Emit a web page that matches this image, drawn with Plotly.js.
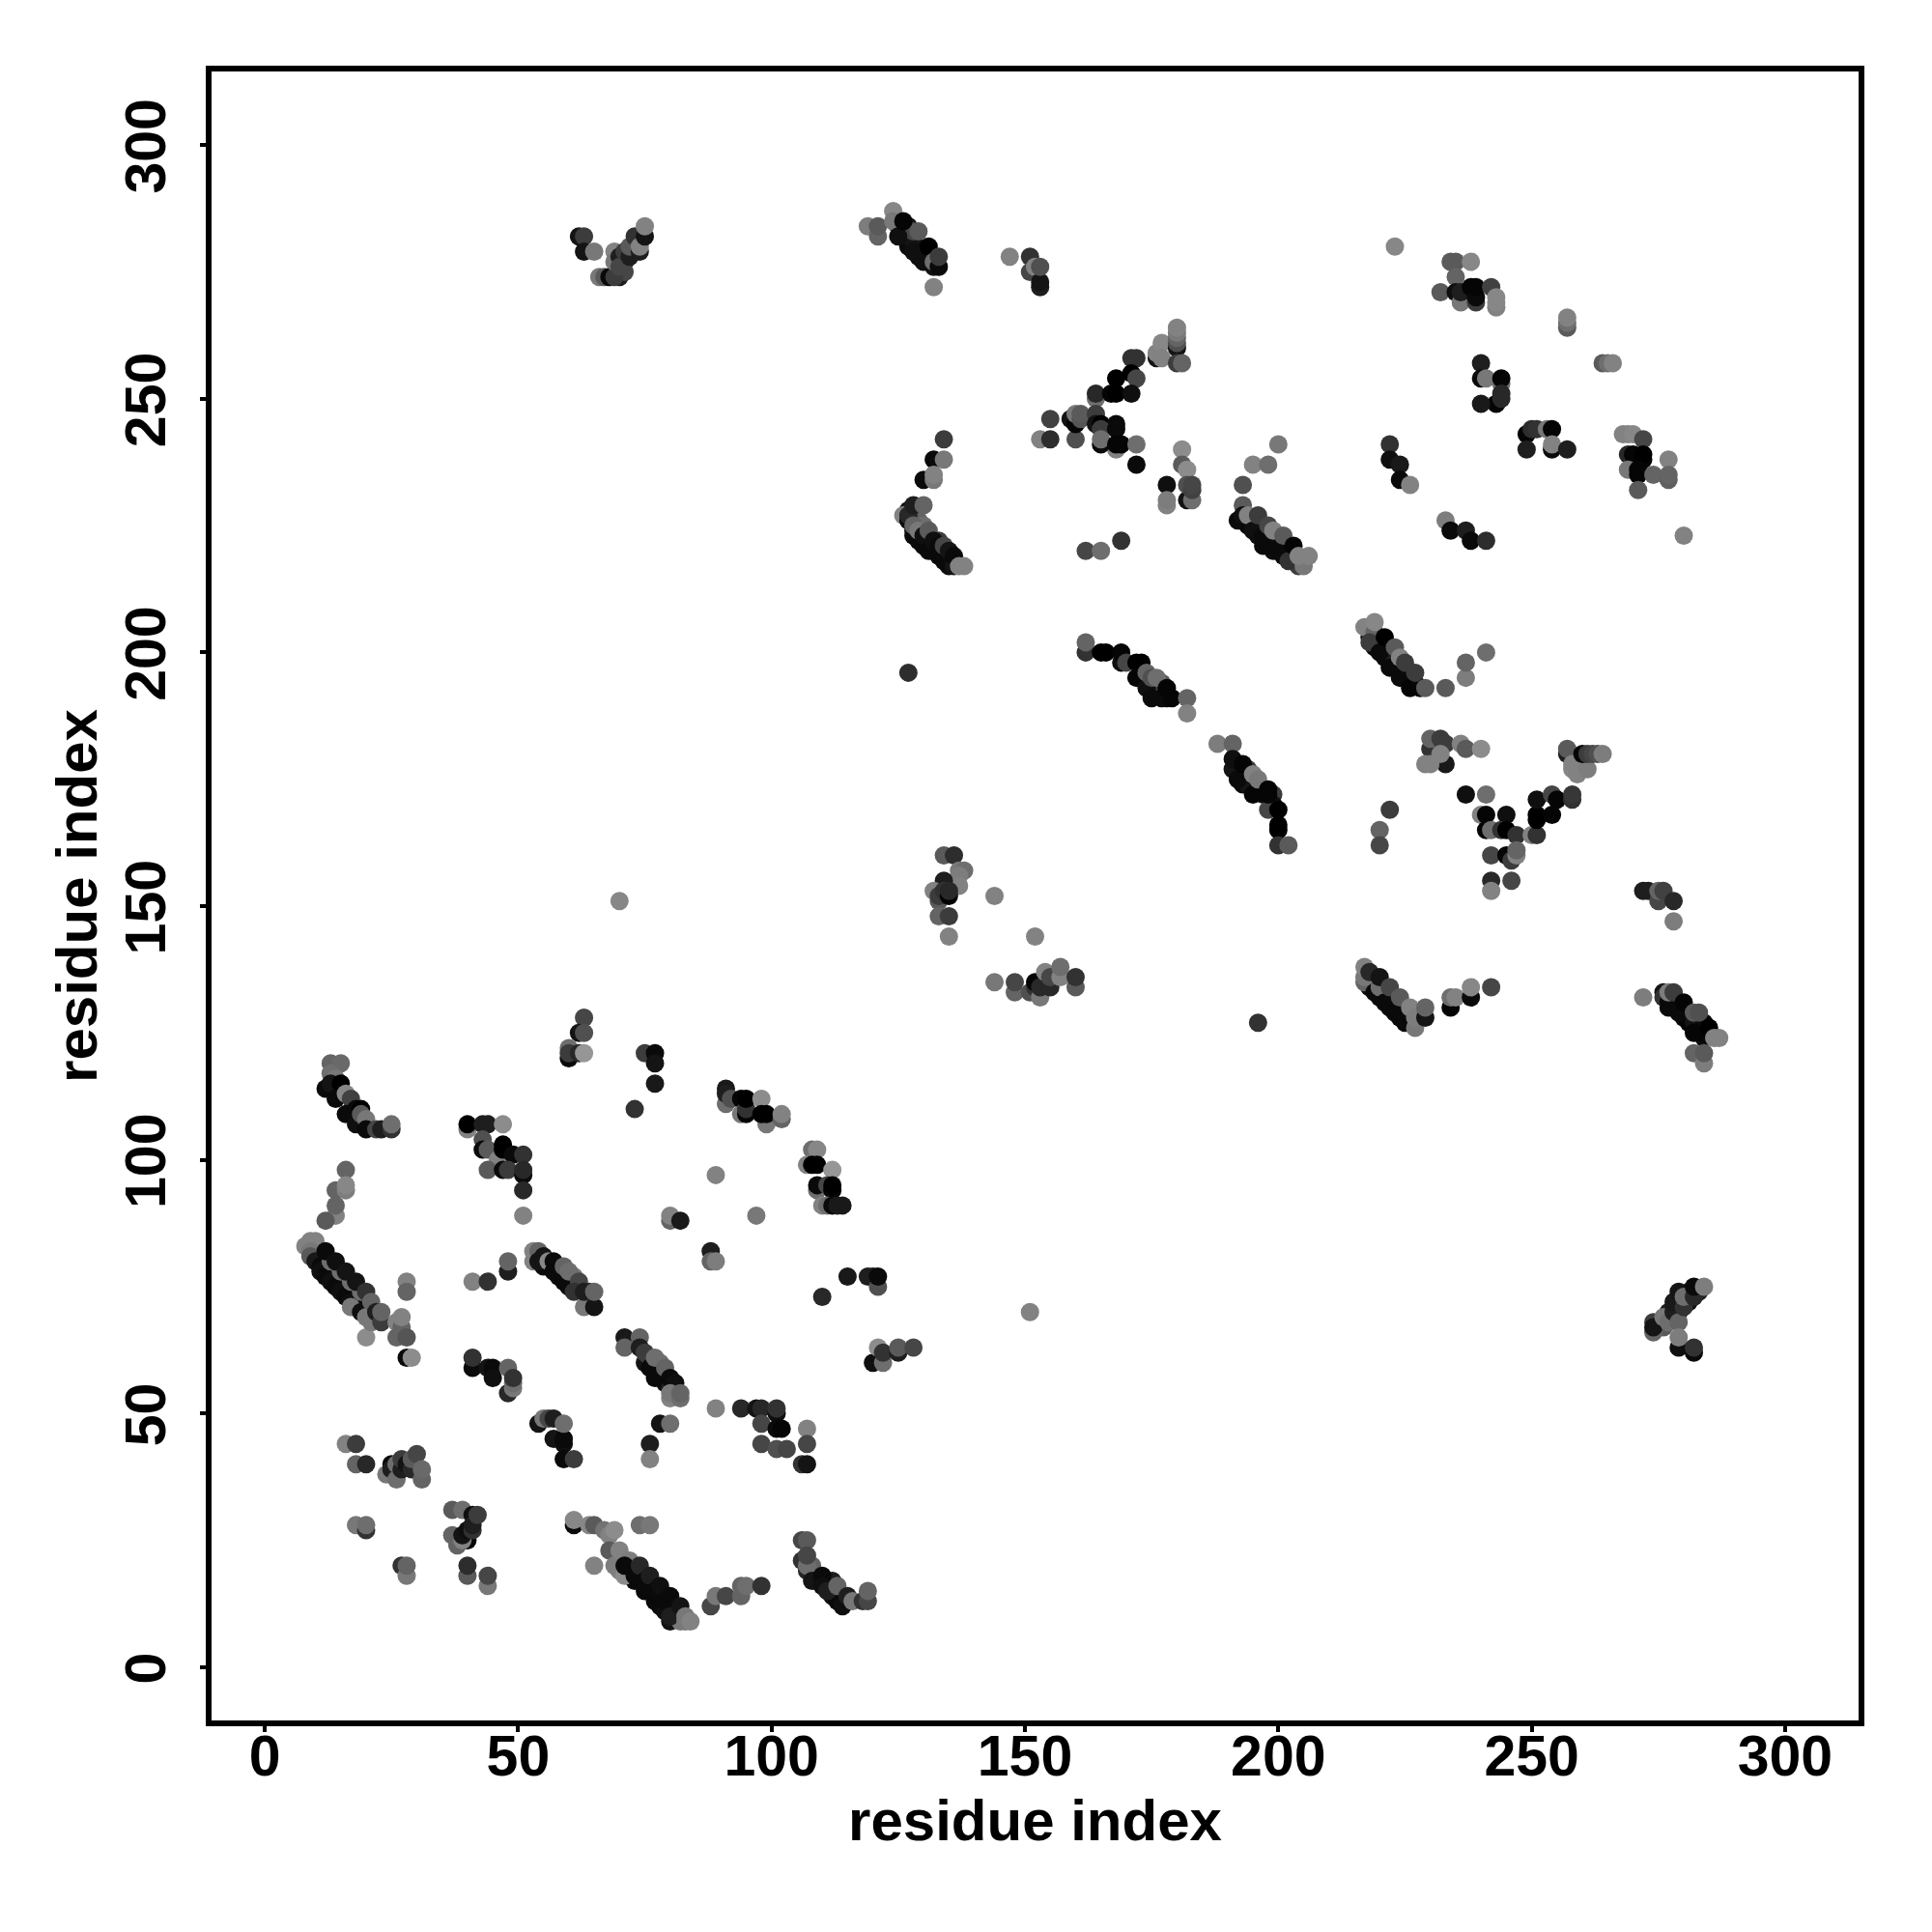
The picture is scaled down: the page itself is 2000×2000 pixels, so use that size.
<!DOCTYPE html>
<html><head><meta charset="utf-8"><script src="https://cdn.plot.ly/plotly-3.0.1.min.js"></script>
<style>html,body{margin:0;padding:0;background:#fff}</style></head><body><div id="chart" style="width:2000px;height:2000px"></div>
<script>
// Each contact: [residue i, residue j, grey level]
const stripFill=[[73,17,10],[75,15,10],[77,13,10],[78,12,10],[79,11,15],[80,9,20],[82,9,120],[70,19,130],[71,21,60],[72,19,110],[109,18,10],[112,14,15],[113,13,10],[107,19,40],[108,20,100],[112,17,30],[128,224,15],[130,221,10],[132,220,10],[133,219,10],[135,217,15],[127,228,20],[129,226,100],[130,225,110],[133,222,60],[193,226,10],[194,225,10],[195,226,20],[196,223,15],[197,221,10],[199,220,15],[200,222,60],[201,219,10],[202,220,40],[203,218,30],[204,217,60],[218,134,10],[220,132,10],[222,130,10],[224,128,10],[226,127,15],[219,135,60],[221,133,30],[223,131,50],[225,129,60],[228,128,125],[277,130,10],[278,131,10],[279,130,15],[280,128,10],[281,127,5],[281,129,10],[282,127,20],[283,126,5],[284,124,10],[284,125,5],[283,128,20],[284,127,10],[275,68,30],[276,67,90],[277,70,30],[278,69,40],[279,70,15],[279,71,20],[280,72,30],[281,72,15],[281,74,20],[283,74,30],[192,177,10],[193,174,10],[194,174,20],[194,177,60],[196,173,15],[197,172,10],[199,172,60],[199,170,15],[192,176,80],[218,203,15],[219,201,10],[220,202,60],[221,199,10],[222,200,30],[223,197,15],[224,197,10],[225,195,10],[226,196,40],[227,194,10],[228,193,5],[226,195,20],[173,195,10],[175,193,10],[176,192,15],[177,194,90],[178,191,10],[176,193,60],[75,60,20],[78,58,15],[79,56,15],[76,61,90],[78,60,110],[80,55,30],[81,54,15],[55,79,10],[58,77,10],[60,75,15],[61,76,40],[62,75,20],[64,74,40],[58,79,90],[61,77,120],[60,77,10],[126,282,15],[127,280,10],[128,281,20],[129,278,15],[130,279,10],[131,278,10],[132,276,20],[127,284,20],[125,284,60],[128,283,70],[70,274,30],[70,277,10],[71,277,20],[72,279,20],[73,280,25],[73,279,10],[71,275,70]];
const lowerLeftA=[[13,119,100],[15,119,105],[13,117,110],[14,116,120],[12,114,10],[13,115,20],[15,115,0],[14,112,10],[16,113,135],[17,112,65],[16,109,10],[18,110,10],[19,110,0],[18,107,15],[19,109,90],[20,108,120],[20,106,10],[22,106,70],[23,106,30],[25,106,50],[25,107,110]];
const lowerLeftB=[[40,106,130],[40,107,0],[43,107,30],[44,107,30],[47,107,140],[43,104,80],[43,102,10],[44,102,90],[46,100,130],[47,103,0],[47,102,0],[49,101,10],[51,101,50],[44,98,90],[47,98,10],[48,98,60],[51,97,10],[51,98,40],[51,94,40],[51,89,130]];
const lowerLeftC=[[63,128,70],[62,125,20],[63,125,80],[60,120,10],[60,122,110],[60,121,60],[62,121,40],[63,121,150]];
const lowerLeftD=[[75,121,60],[77,121,10],[77,119,20],[77,115,25],[73,110,50]];
const lowerLeftE=[[16,98,100],[14,94,100],[16,94,125],[16,95,135],[14,89,130],[14,91,100],[12,88,90]];
const mainStrip=[[8,83,130],[9,84,130],[10,84,130],[9,82,120],[9,81,90],[10,80,25],[11,79,10],[11,78,15],[12,77,10],[13,76,15],[14,75,10],[15,74,15],[16,73,10],[17,72,15],[18,71,10],[17,71,120],[19,70,15],[20,69,120],[20,65,140],[13,80,110],[15,78,110],[17,76,110],[19,74,110],[12,82,10],[14,80,15],[16,78,20],[18,76,20],[20,74,50],[21,72,100],[21,68,120],[22,70,30],[23,68,60],[23,70,100],[28,76,130],[28,74,100],[26,68,130],[26,65,100],[27,67,100],[27,69,130],[28,65,85],[28,61,10],[29,61,140]];
const lowerLeftG=[[41,59,10],[41,61,50],[44,59,20],[45,59,10],[45,57,15],[48,54,40],[48,59,100],[49,55,120],[49,56,110],[49,57,50]];
const lowerLeftH=[[54,48,20],[55,49,120],[56,49,70],[57,49,30],[57,45,20],[59,44,15],[59,45,10],[59,48,110],[59,41,10],[61,41,60]];
const lowerLeftI=[[16,44,130],[18,44,60],[18,40,100],[20,40,40]];
const lowerLeftJ=[[24,38,120],[25,40,10],[25,39,30],[26,37,110],[26,40,110],[27,39,30],[27,41,60],[28,40,20],[29,39,40],[29,41,90],[30,42,70],[31,37,100],[31,39,105]];
const lowerLeftK=[[37,31,90],[39,31,110],[37,26,100],[38,24,100],[40,25,5],[39,25,130],[39,26,20],[41,30,15],[40,27,15],[41,27,50],[41,28,30],[42,30,60]];
const lowerLeftL=[[18,28,120],[20,27,50],[20,28,110]];
const lowerLeftM=[[27,20,50],[28,18,120],[28,20,100],[40,18,90],[40,20,45],[44,16,120],[44,18,70]];
const bottomStrip=[[61,28,10],[61,29,135],[64,28,135],[65,28,90],[67,27,115],[68,26,130],[69,27,140],[74,28,110],[76,28,120],[65,20,130],[68,23,90],[69,20,125],[70,23,130],[71,18,140],[72,21,125],[71,20,10],[73,18,10],[74,20,40],[75,17,10],[76,18,30],[77,15,10],[78,16,15],[79,13,10],[80,14,10],[81,11,10],[80,10,30],[82,12,20],[83,10,120],[83,9,120],[84,9,130]];
const bottomP=[[88,12,70],[89,14,120],[91,14,70],[94,14,100],[94,16,100],[95,16,110],[98,16,50]];
const bottomQ=[[106,25,70],[107,25,90],[106,21,50],[107,20,110],[107,22,70],[108,17,20],[110,18,10],[110,16,15],[111,15,30],[113,16,100],[114,12,15],[115,14,30],[116,13,120],[118,13,50],[119,13,70],[119,15,100]];
const midR=[[53,82,130],[53,80,130],[54,82,100],[54,80,20],[55,81,20],[56,80,135],[57,78,10],[57,80,10],[59,76,10],[59,79,100],[60,78,110],[62,76,70],[61,74,50],[63,71,120],[63,74,30],[65,71,20],[65,74,100],[41,76,130],[44,76,50],[48,78,30],[48,80,100]];
const midT=[[91,114,25],[91,111,110],[91,113,30],[92,112,80],[94,112,5],[94,109,120],[95,109,5],[95,110,50],[95,112,0],[98,112,140],[99,107,120],[98,109,0],[99,109,0],[102,108,100],[102,109,130]];
const midU=[[108,102,110],[109,102,135],[107,99,130],[108,99,0],[109,99,0],[112,98,150],[109,94,110],[109,95,10],[111,95,70],[112,94,5],[112,95,0],[110,91,130],[111,91,110],[112,91,10],[113,91,25],[114,91,25]];
const midSingles=[[89,97,130],[80,88,100],[80,89,130],[82,88,25],[97,89,120],[88,82,30],[88,80,100],[89,80,125],[115,77,25],[119,77,30],[120,77,30],[121,75,80],[121,77,10],[110,73,40],[89,51,130]];
const midV=[[120,60,15],[121,63,140],[122,60,110],[122,62,50],[125,62,30],[125,63,90],[128,63,70]];
const midW=[[94,51,40],[97,51,20],[98,51,40],[101,50,15],[101,51,50],[98,48,70],[98,44,70],[101,47,10],[102,47,5],[101,43,80],[103,43,70],[107,47,130],[107,44,70],[106,40,50],[107,40,20]];
const midX=[[71,65,25],[71,63,100],[74,65,100],[74,63,30],[75,62,60],[76,59,10],[77,61,110],[77,57,10],[79,59,100],[80,57,10],[81,56,15],[80,53,130],[80,54,120],[82,53,110],[82,54,100],[78,48,20],[80,48,110],[76,44,30],[76,41,130]];
const topA=[[62,282,20],[63,282,60],[63,279,20],[65,279,120],[66,274,120],[67,274,90],[68,274,10],[69,274,60],[69,279,130],[69,277,120],[70,278,30],[70,276,70],[71,279,60],[72,278,30],[72,280,90],[73,282,50],[74,279,30],[74,280,130],[75,282,20],[75,284,130]];
const topB=[[119,284,125],[121,282,100],[121,284,90],[124,287,135],[124,285,120],[125,282,15],[126,285,5],[128,279,15],[129,283,90],[130,277,15],[131,280,0],[132,277,110],[133,276,10],[133,278,60],[132,272,130]];
const topC=[[147,278,130],[151,278,50],[151,275,70],[152,276,130],[153,272,30],[153,273,20],[153,276,80]];
const upperD=[[176,258,20],[176,259,130],[177,261,135],[177,258,130],[180,260,20],[180,261,80],[180,262,100],[180,263,120],[180,264,130],[180,257,60],[181,257,100],[171,258,50],[172,258,50],[171,255,0],[172,254,70],[168,254,0],[164,250,110],[164,251,40],[167,251,5],[168,251,0],[171,251,15]];
const upperE=[[155,246,65],[153,242,130],[155,242,45],[160,242,80],[159,246,20],[160,245,5],[160,247,120],[161,246,85],[161,247,90],[164,247,60],[164,245,20],[165,245,0],[168,245,10],[165,244,60],[168,244,10],[168,240,130],[165,241,10],[165,242,110],[168,241,5],[169,241,5],[172,241,110],[172,237,10]];
const upperF=[[181,240,140],[181,237,90],[182,236,140],[178,233,15],[178,229,130],[178,230,125],[182,230,20],[183,230,110],[182,233,80],[183,232,65],[183,233,70]];
const upperG=[[134,242,60],[132,238,10],[134,238,120],[130,234,10],[132,234,120],[132,235,130]];
const upperH=[[126,227,130],[127,226,10],[127,227,40],[128,223,10],[128,229,30],[130,229,100],[128,225,100],[129,222,10],[129,224,120],[130,223,15],[131,220,10],[131,224,90],[132,222,15],[133,221,10],[134,218,10],[134,221,70],[135,220,20],[136,217,20],[136,219,10],[137,217,130],[138,217,130]];
const upperI=[[162,220,70],[165,220,110],[169,222,50],[200,241,120],[195,237,130],[198,237,110],[193,233,80]];
const upperJ=[[193,229,90],[192,226,10],[193,227,15],[194,227,130],[195,224,15],[196,227,60],[197,223,10],[198,221,10],[198,225,70],[199,224,130],[200,220,10],[201,223,90],[202,218,50],[203,221,5],[205,217,120],[204,219,130],[206,219,130]];
const upperK=[[223,280,135],[234,277,90],[235,277,90],[238,277,135],[235,274,100],[232,271,90],[235,271,15],[236,269,120],[236,271,30],[238,272,5],[239,269,60],[239,270,10],[239,272,5],[242,272,65],[243,268,130],[243,269,135],[243,270,135]];
const upperL=[[257,264,90],[257,265,110],[257,266,130],[264,257,90],[265,257,110],[266,257,130]];
const upperM=[[240,257,30],[240,254,10],[241,254,120],[244,253,110],[244,254,5],[243,249,5],[244,250,40],[244,251,40],[240,249,25]];
const upperN=[[222,241,50],[222,238,15],[224,237,25],[224,234,10],[226,233,130],[233,226,125],[234,224,10],[237,224,30],[238,222,10],[241,222,45]];
const upperO=[[249,243,5],[250,244,45],[251,244,50],[253,244,120],[254,244,5],[249,240,30],[254,240,10],[254,241,130],[257,240,30]];
const upperP=[[268,243,130],[269,243,130],[270,243,135],[272,242,70],[269,239,40],[270,239,5],[272,238,5],[272,239,0],[269,236,120],[271,235,5],[271,236,5],[274,235,100],[277,238,130],[277,234,95],[277,235,100],[271,232,90],[280,223,130]];
const centreA=[[162,200,50],[162,202,100],[165,200,0],[166,200,0],[169,198,15],[169,200,5],[170,198,70],[172,198,0],[173,198,0],[172,195,5],[174,193,15],[174,196,100],[175,191,10],[175,195,80],[176,195,110],[177,191,10],[178,193,5],[179,191,5],[182,191,100],[182,188,130]];
const centreB=[[188,182,125],[191,182,100],[191,177,20],[191,179,15],[192,175,10],[193,178,5],[195,172,5],[195,176,130],[196,175,120],[198,169,70],[198,172,5],[198,173,5],[200,165,0],[200,166,0],[200,169,0],[200,162,50],[202,162,90]];
const centreC=[[220,165,100],[220,162,70],[222,169,60],[217,205,130],[219,204,100],[219,206,135],[218,202,60],[220,200,10],[221,203,0],[222,197,10],[223,201,90],[224,195,10],[224,199,130],[225,198,60],[226,193,5],[227,196,60],[229,193,90],[233,193,90],[237,195,125],[237,198,100],[241,200,110]];
const centreD=[[230,181,50],[230,183,100],[232,183,60],[233,178,25],[233,182,60],[229,178,130],[230,178,130],[232,180,130],[236,182,130],[237,181,90],[240,181,140]];
const centreE=[[237,172,15],[241,172,110],[240,168,130],[241,168,5],[245,168,15],[241,165,5],[242,165,110],[244,165,50],[245,165,0],[247,164,50],[242,160,70],[245,160,5],[246,159,60],[247,160,130],[247,161,100],[242,155,40],[242,153,130],[246,155,70],[250,164,130],[251,164,50],[251,167,0],[251,168,0],[251,171,15],[254,172,70],[255,171,5],[254,168,5],[258,171,50],[258,172,55]];
const centreF=[[257,180,30],[257,181,90],[258,177,135],[258,178,130],[259,176,130],[261,177,125],[260,180,5],[261,180,60],[262,180,70],[263,180,80],[264,180,125]];
const centreG=[[272,153,30],[273,153,30],[275,151,70],[275,153,100],[276,153,65],[278,151,40],[278,147,125]];
const lowerRightA=[[217,135,100],[217,136,120],[217,138,130],[218,137,40],[219,133,10],[220,134,110],[220,136,20],[221,131,10],[222,134,70],[223,129,10],[224,132,90],[225,127,10],[226,130,130],[227,126,120],[227,128,125],[229,128,20],[229,130,100],[234,130,5],[234,132,110],[235,132,130],[238,132,10],[238,134,135],[242,134,70]];
const lowerRightB=[[272,132,125],[276,133,20],[276,132,50],[277,131,10],[277,133,125],[278,133,60],[279,129,10],[280,131,5],[282,129,90],[283,129,80],[282,125,5],[285,126,0],[286,124,130],[287,124,130],[282,121,100],[284,119,125],[284,121,90]];
const lowerRightC=[[274,66,100],[274,68,60],[274,67,20],[276,69,120],[277,68,110],[278,70,30],[279,68,100],[278,72,25],[279,74,20],[280,71,50],[280,73,110],[282,73,40],[282,75,10],[284,75,125],[279,63,15],[279,65,125],[282,62,10],[282,63,50]];
const centreH=[[134,160,90],[136,160,45],[137,157,120],[138,157,110],[137,156,125],[137,154,130],[134,155,30],[132,153,130],[133,151,90],[133,152,60],[134,153,50],[135,152,0],[135,153,40],[133,148,100],[135,148,60],[135,144,130],[144,152,130],[152,144,130]];
const centreI=[[144,135,120],[148,133,100],[148,135,70],[151,133,80],[152,134,50],[152,135,5],[153,132,120],[153,134,40],[155,134,40],[154,137,130],[155,136,70],[157,136,130],[157,138,110],[160,134,90],[160,136,50]];
const loneContacts=[[127,196,45],[196,127,50],[70,151,135],[151,70,130]];

const clusters=[stripFill,lowerLeftA,lowerLeftB,lowerLeftC,lowerLeftD,lowerLeftE,mainStrip,lowerLeftG,lowerLeftH,lowerLeftI,lowerLeftJ,lowerLeftK,lowerLeftL,lowerLeftM,bottomStrip,bottomP,bottomQ,midR,midT,midU,midSingles,midV,midW,midX,topA,topB,topC,upperD,upperE,upperF,upperG,upperH,upperI,upperJ,upperK,upperL,upperM,upperN,upperO,upperP,centreA,centreB,centreC,centreD,centreE,centreF,centreG,lowerRightA,lowerRightB,lowerRightC,centreH,centreI,loneContacts];
const points=clusters.flat();
const tickValues=[0,50,100,150,200,250,300];
const fontFamily='"Liberation Sans",Arial,sans-serif';
const tickFont={family:fontFamily,size:59,color:'#000',weight:700};
const titleFont={family:fontFamily,size:60,color:'#000',weight:700};
const axisBase={range:[-10.5,314.5],tickvals:tickValues,ticktext:tickValues.map(String),ticks:'outside',ticklen:6,tickwidth:4,tickcolor:'#000',showgrid:false,zeroline:false,showline:true,mirror:true,linecolor:'#000',linewidth:6,tickfont:tickFont,automargin:false};
Plotly.newPlot('chart',[{type:'scatter',mode:'markers',x:points.map(p=>p[0]),y:points.map(p=>p[1]),
 marker:{size:19,color:points.map(p=>`rgb(${p[2]},${p[2]},${p[2]})`),line:{width:0}},hoverinfo:'skip'}],
 {width:2000,height:2000,showlegend:false,paper_bgcolor:'#fff',plot_bgcolor:'#fff',
  margin:{l:219,r:76,t:74,b:219},
  xaxis:{...axisBase,automargin:true,ticklabelstandoff:-26,title:{text:'residue index',font:titleFont,standoff:5}},
  yaxis:{...axisBase,tickangle:-90,ticklabelstandoff:12,ticklabelshift:10,title:{text:'residue index',font:titleFont,standoff:0}}},
 {displayModeBar:false,staticPlot:true});
</script></body></html>
